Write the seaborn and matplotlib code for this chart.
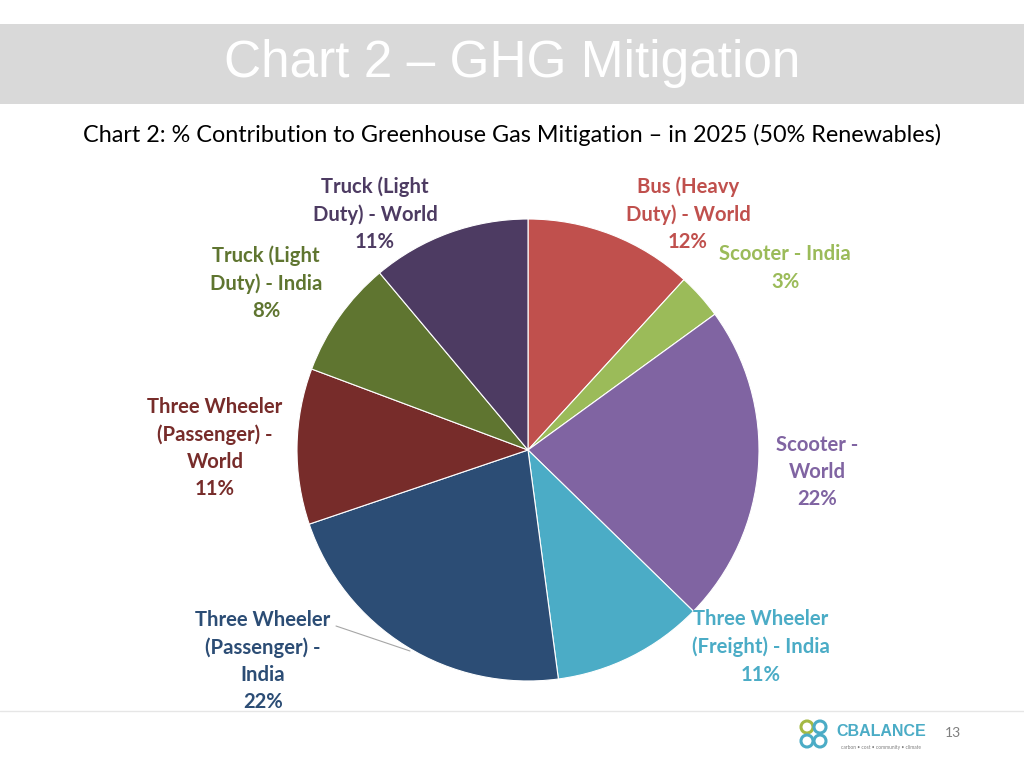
import matplotlib
matplotlib.use("Agg")
import matplotlib.pyplot as plt
import seaborn as sns
from matplotlib.patches import Rectangle, Circle

# datos del grafico (sentido horario desde las 12)
categorias = ["Bus (Heavy\nDuty) - World", "Scooter - India", "Scooter -\nWorld",
              "Three Wheeler\n(Freight) - India", "Three Wheeler\n(Passenger) -\nIndia",
              "Three Wheeler\n(Passenger) -\nWorld", "Truck (Light\nDuty) - India",
              "Truck (Light\nDuty) - World"]
valores = [11.8, 3.2, 22.3, 10.6, 21.9, 10.9, 8.2, 11.1]
colores = ["#C0504D", "#9BBB59", "#8064A2", "#4BACC6", "#2C4D75", "#772C2A", "#5F7530", "#4D3B62"]

titulo = "Chart 2 \u2013 GHG Mitigation"
subtitulo = "Chart 2: % Contribution to Greenhouse Gas Mitigation \u2013 in 2025 (50% Renewables)"

sns.set_theme(style="white")
plt.rcParams['font.family'] = ['Lato', 'DejaVu Sans']

W, H = 1024, 768
def py(y):
    # pixel y (desde arriba) -> coordenada de datos
    return H - y

fig = plt.figure(figsize=(10.24, 7.68), dpi=100)
ax = fig.add_axes([0, 0, 1, 1])

paleta = sns.color_palette(colores)
ax.pie(valores, colors=paleta, startangle=90, counterclock=False,
       center=(528, py(450)), radius=231,
       wedgeprops=dict(edgecolor="white", linewidth=0.8))

ax.set_xlim(0, W)
ax.set_ylim(0, H)
ax.set_aspect("equal")
ax.axis("off")

# banda del titulo
ax.add_patch(Rectangle((0, py(104)), W, 80, facecolor="#D9D9D9", edgecolor="none", zorder=0))
ax.text(512, py(64), titulo, ha="center", va="center", color="white",
        fontsize=37, family=["Liberation Sans", "DejaVu Sans"])
ax.text(512, py(135), subtitulo, ha="center", va="center", color="black", fontsize=16.8)

# posiciones de etiquetas (centro del bloque de texto, en pixeles)
pos_etiquetas = [(688, 214), (785, 268), (817, 472), (761, 647),
                 (263, 661), (215, 448), (266, 283), (375, 214)]
for cat, v, c, (x, y) in zip(categorias, valores, colores, pos_etiquetas):
    ax.text(x, py(y), f"{cat}\n{round(v):.0f}%", ha="center", va="center",
            color=c, fontsize=14.6, fontweight="bold", linespacing=1.45)

# linea guia
ax.plot([336, 410], [py(626), py(651)], color="#A6A6A6", linewidth=0.8)

# pie de pagina
ax.plot([0, W], [py(711), py(711)], color="#E6E6E6", linewidth=1)
for (cx, cy), col in zip([(807, 727), (820, 727), (807, 741), (820, 741)],
                         ["#A4B944", "#4BACC6", "#4BACC6", "#4BACC6"]):
    ax.add_patch(Circle((cx, py(cy)), 6, facecolor="none", edgecolor=col, linewidth=2.2))
ax.text(881, py(731), "CBALANCE", ha="center", va="center", color="#4BACC6",
        fontsize=11.5, fontweight="bold", family=["Liberation Sans", "DejaVu Sans"])
ax.text(881, py(748), "carbon \u2022 cost \u2022 community \u2022 climate", ha="center", va="center",
        color="#7F7F7F", fontsize=3.5)
ax.text(953, py(733), "13", ha="center", va="center", color="#7F7F7F", fontsize=10)

plt.savefig("out.png", dpi=100)
